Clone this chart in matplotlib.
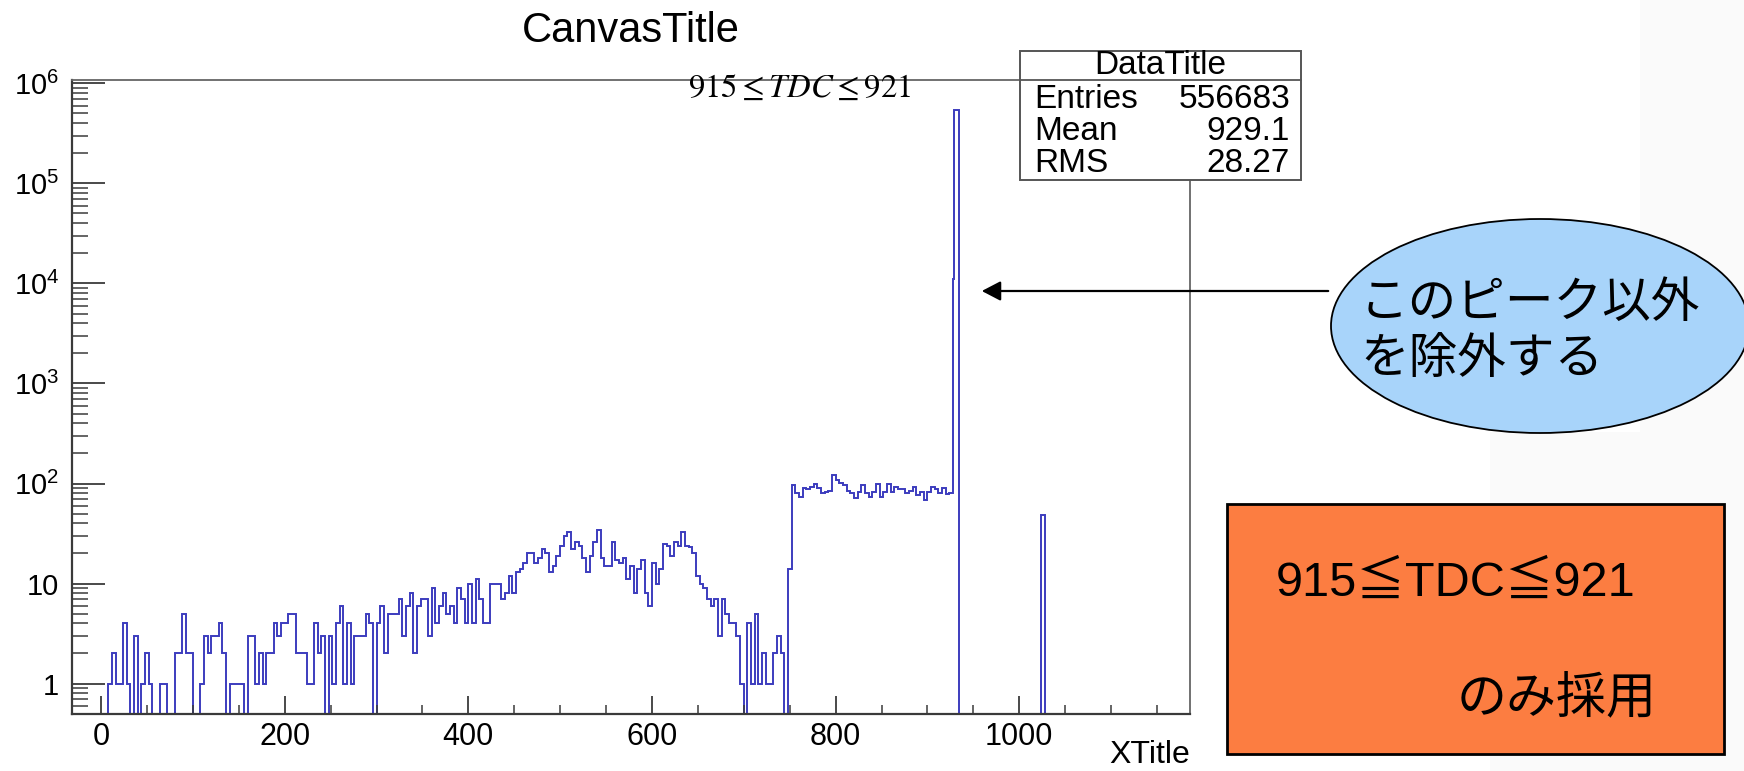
import numpy as np
import matplotlib.pyplot as plt
from matplotlib.patches import Ellipse, Rectangle, FancyArrowPatch
from matplotlib.ticker import MultipleLocator, FixedLocator, LogLocator, FuncFormatter, NullFormatter

plt.rcParams['font.family'] = ['Liberation Sans', 'Noto Sans CJK JP', 'DejaVu Sans']
plt.rcParams['mathtext.fontset'] = 'custom'
plt.rcParams['mathtext.rm'] = 'Liberation Sans'
plt.rcParams['mathtext.it'] = 'Liberation Sans:italic'

W, H = 1744, 771

# TDC histogram, 4-channel bins starting at 0
bin_width = 4
counts_low = [  # 0 - 236
    0, 0, 1, 2, 1, 1, 4, 1, 0, 3, 0, 1, 2, 1, 0, 0, 1, 1, 0, 0,
    2, 2, 5, 2, 2, 0, 0, 1, 3, 2, 3, 3, 4, 2, 0, 1, 1, 1, 1, 0,
    3, 3, 1, 2, 1, 2, 2, 4, 3, 4, 4, 5, 5, 2, 2, 2, 1, 1, 4,
]
counts_mid = [  # 236 - 752
    2, 3, 0, 3, 1, 4, 6, 1, 4, 1, 3, 3, 3, 5, 4, 0, 4, 6, 2, 5,
    5, 5, 7, 3, 6, 8, 2, 6, 7, 7, 3, 9, 4, 6, 8, 5, 6, 4, 9, 7,
    4, 10, 4, 11, 7, 4, 4, 10, 10, 10, 7, 8, 12, 8, 13, 14, 16, 20, 20, 16,
    18, 22, 20, 13, 15, 19, 24, 30, 33, 22, 26, 24, 18, 13, 19, 26, 34, 18, 15, 15,
    26, 17, 16, 18, 11, 15, 8, 14, 17, 8, 6, 16, 10, 14, 25, 24, 19, 26, 24, 33,
    24, 23, 20, 12, 10, 9, 7, 6, 7, 3, 7, 5, 4, 4, 3, 1, 0, 4, 1, 5,
    1, 2, 1, 1, 2, 3, 2, 0, 14,
]
counts_plateau = [  # 752 - 928
    96, 80, 73, 90, 88, 93, 98, 90, 80, 82, 85, 121, 108, 102, 96, 85, 80, 72, 82, 96,
    80, 74, 82, 98, 74, 82, 100, 82, 93, 88, 88, 80, 85, 93, 76, 82, 69, 82, 93, 88,
    80, 90, 78, 80,
]
# narrow bins around the main peak, then the lone bin near 1025
peak_edges = [929.5, 934.0]
peak_counts = [11000, 540000]
spike_edges = [1024.0, 1028.0]
spike_count = 48
x_end = 1186.0

main_counts = np.array(counts_low + counts_mid + counts_plateau, dtype=float)
main_edges = np.arange(len(main_counts) + 1) * bin_width
edges = np.concatenate([main_edges, peak_edges, spike_edges, [x_end]])
counts = np.concatenate([main_counts, peak_counts, [0, spike_count, 0]])

stats_rows = [('Entries', '556683'), ('Mean', '929.1'), ('RMS', '28.27')]
y_decades = [1, 10, 1e2, 1e3, 1e4, 1e5, 1e6]


def fx(x):
    return x / W


def fy(y):
    return 1 - y / H


fig = plt.figure(figsize=(W / 100, H / 100), dpi=100)

# very faint background texture at the right
fig.patches.append(Rectangle((fx(1640), 0), fx(W - 1640), 1, transform=fig.transFigure,
                             facecolor='#fafafa', edgecolor='none', zorder=-5))
fig.patches.append(Rectangle((fx(1490), 0), fx(1640 - 1490), fy(432), transform=fig.transFigure,
                             facecolor='#fafafa', edgecolor='none', zorder=-5))

ax = fig.add_axes([fx(71.7), fy(713.7), fx(1190 - 71.7), (713.7 - 80) / H])
ax.stairs(counts, edges, color='#3c3cbe', linewidth=1.4)
ax.set_yscale('log')
ax.set_xlim(-32, 1186)
ax.set_ylim(0.5, 1.08e6)

ax.xaxis.set_major_locator(MultipleLocator(200))
ax.xaxis.set_minor_locator(MultipleLocator(50))
ax.yaxis.set_major_locator(FixedLocator(y_decades))
ax.yaxis.set_minor_locator(LogLocator(base=10, subs=np.arange(2, 10), numticks=20))
ax.yaxis.set_minor_formatter(NullFormatter())


def log_label(v, pos):
    n = int(round(np.log10(v)))
    if n == 0:
        return '1'
    if n == 1:
        return '10'
    return r'$\mathregular{10^{%d}}$' % n


ax.yaxis.set_major_formatter(FuncFormatter(log_label))
ax.tick_params(which='both', direction='in', top=False, right=False, color='#3a3a3a')
ax.tick_params(axis='y', which='major', length=23.5, width=1.3, pad=9, labelsize=21)
ax.tick_params(axis='y', which='minor', length=11.3, width=1.1)
ax.tick_params(axis='x', which='major', length=13.3, width=1.3, pad=6, labelsize=22)
ax.tick_params(axis='x', which='minor', length=6.5, width=1.1)
for side in ['left', 'bottom']:
    ax.spines[side].set_color('#3a3a3a')
    ax.spines[side].set_linewidth(1.6)
for side in ['top', 'right']:
    ax.spines[side].set_color('#666666')
    ax.spines[side].set_linewidth(1.3)

fig.text(fx(631), fy(31), 'CanvasTitle', ha='center', va='center', fontsize=30)
fig.text(fx(1190), fy(770), 'XTitle', ha='right', va='bottom', fontsize=23)

# stats box
fig.patches.append(Rectangle((fx(1020), fy(180)), fx(1301 - 1020), (180 - 51) / H,
                             transform=fig.transFigure, facecolor='white',
                             edgecolor='#555555', linewidth=1.4, zorder=3))
fig.lines.append(plt.Line2D([fx(1020), fx(1301)], [fy(80), fy(80)], transform=fig.transFigure,
                            color='#555555', linewidth=1.3, zorder=4))
fig.text(fx(1160), fy(66), 'DataTitle', ha='center', va='center', fontsize=24, zorder=5)
for i, (name, val) in enumerate(stats_rows):
    y = 100 + i * 31.5
    fig.text(fx(1034), fy(y), name, ha='left', va='center', fontsize=24, zorder=5)
    fig.text(fx(1290), fy(y), val, ha='right', va='center', fontsize=24, zorder=5)

fig.text(fx(800), fy(88), r'$915\leq TDC\leq 921$', ha='center', va='center',
         fontsize=23.5, math_fontfamily='stix', zorder=5)

# callout
fig.patches.append(Ellipse((fx(1540), fy(326)), fx(418), 214 / H, transform=fig.transFigure,
                           facecolor='#a8d4fa', edgecolor='black', linewidth=1.3, zorder=3))
fig.patches.append(FancyArrowPatch((fx(1331), fy(291)), (fx(979), fy(291)),
                                   transform=fig.transFigure,
                                   arrowstyle='-|>,head_length=1.15,head_width=0.6',
                                   mutation_scale=10, color='black', linewidth=1.6, zorder=4))
fig.text(fx(1360), fy(303), 'このピーク以外', ha='left', va='center', fontsize=35,
         family=['Noto Sans CJK JP'], zorder=5)
fig.text(fx(1360), fy(359), 'を除外する', ha='left', va='center', fontsize=35,
         family=['Noto Sans CJK JP'], zorder=5)

fig.patches.append(Rectangle((fx(1227), fy(754)), fx(1724 - 1227), (754 - 504) / H,
                             transform=fig.transFigure, facecolor='#fc7d41',
                             edgecolor='black', linewidth=2, zorder=3))
fig.text(fx(1276), fy(583), '915≦TDC≦921', ha='left', va='center', fontsize=35,
         family=['Liberation Sans', 'Noto Sans CJK JP'], zorder=5)
fig.text(fx(1457), fy(698), 'のみ採用', ha='left', va='center', fontsize=36,
         family=['Noto Sans CJK JP'], zorder=5)

fig.savefig('out.png', dpi=100)
